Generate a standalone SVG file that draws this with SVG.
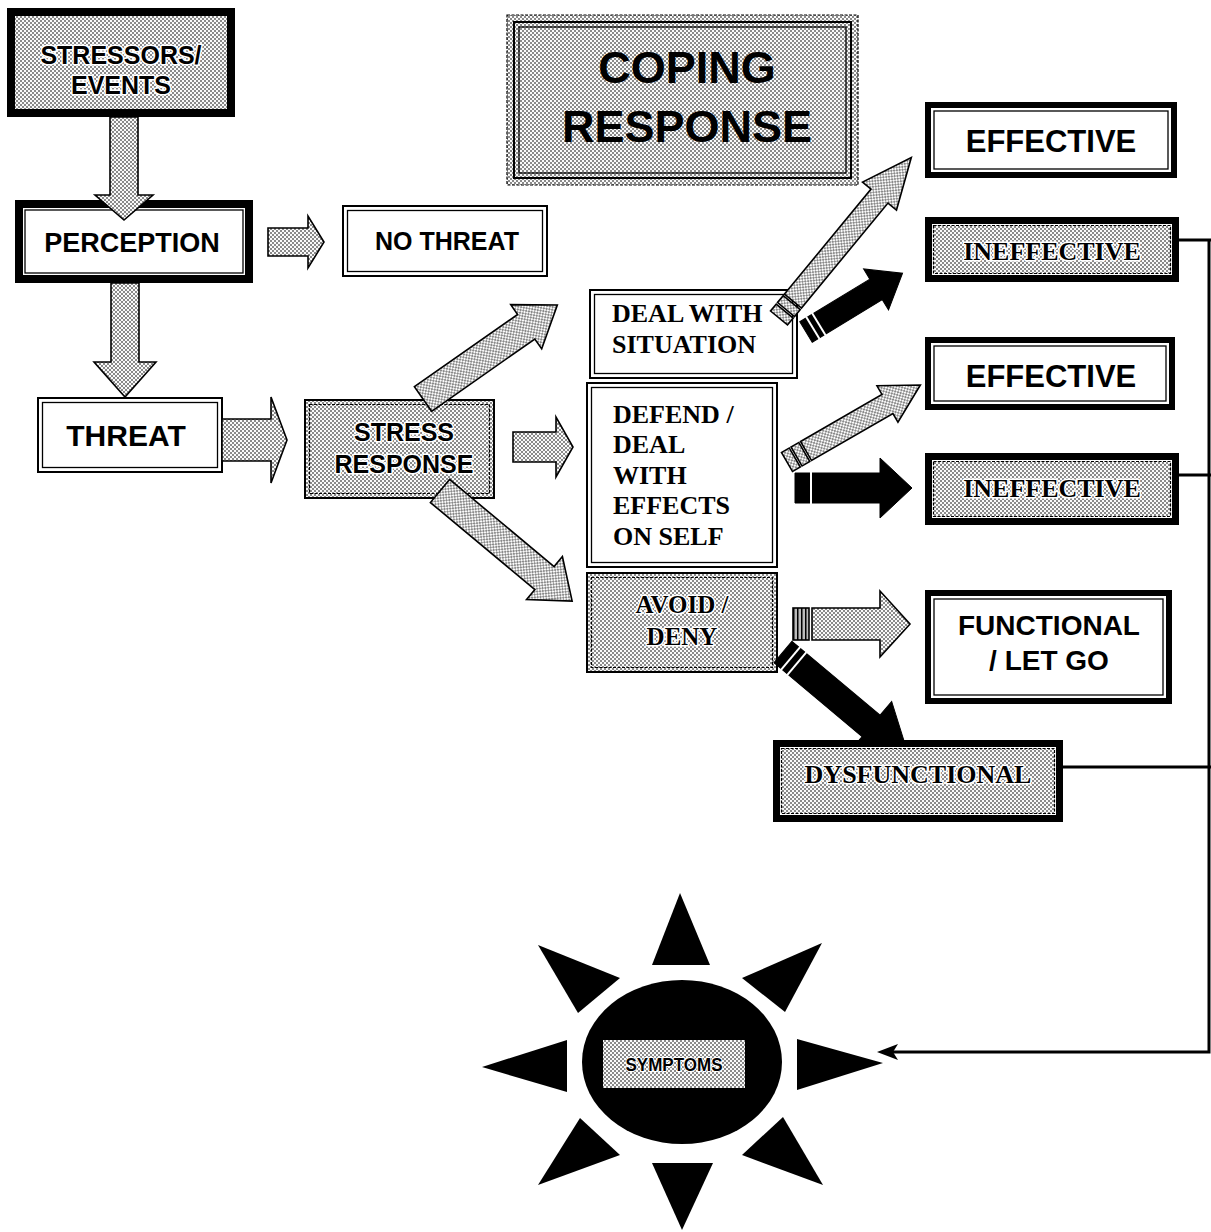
<svg xmlns="http://www.w3.org/2000/svg" width="1211" height="1232" viewBox="0 0 1211 1232">
<defs>
<pattern id="dots" width="4" height="4" patternUnits="userSpaceOnUse">
<rect width="4" height="4" fill="#fafafa"/>
<rect width="2" height="2" fill="#8a8a8a"/>
<rect x="2" y="2" width="2" height="2" fill="#8a8a8a"/>
</pattern>
<pattern id="stripes" width="4" height="4" patternUnits="userSpaceOnUse">
<rect width="4" height="4" fill="#bbb"/>
<rect width="1.5" height="4" fill="#000"/>
</pattern>
</defs>
<style>
.sans{font-family:"Liberation Sans",Arial,sans-serif;font-weight:bold;fill:#000}
.serif{font-family:"Liberation Serif","Times New Roman",serif;font-weight:bold;fill:#000}
.halo{stroke:#fff;stroke-width:3;paint-order:stroke;stroke-linejoin:round}
.white{fill:#fff;stroke:#000}
.gray{fill:url(#dots);stroke:#000}
.thin{fill:none;stroke:#000;stroke-width:1.3}
.dash{fill:none;stroke:#000;stroke-width:1.2;stroke-dasharray:3 1.5}
.ga{fill:url(#dots);stroke:#000;stroke-width:1.6;stroke-linejoin:miter}
.ba{fill:#000;stroke:#000;stroke-width:1}
.band{stroke:#fff;stroke-width:2}
.conn{fill:none;stroke:#000;stroke-width:3}
</style>

<!-- Nodes -->
<g id="stressors">
<rect x="7" y="8" width="228" height="109" fill="#000"/>
<rect x="15" y="16" width="212" height="93" fill="url(#dots)"/>
<text class="sans halo" x="121" y="64" font-size="25" text-anchor="middle">STRESSORS/</text>
<text class="sans halo" x="121" y="94" font-size="25" text-anchor="middle">EVENTS</text>
</g>

<g id="perception">
<rect x="19" y="204" width="230" height="75" class="white" stroke-width="8"/>
<rect x="25" y="210" width="218" height="63" class="thin"/>
<text class="sans" x="132" y="252" font-size="27" text-anchor="middle">PERCEPTION</text>
</g>

<g id="no-threat">
<rect x="343" y="206" width="204" height="70" class="white" stroke-width="2"/>
<rect x="347.5" y="210.5" width="195" height="61" class="thin"/>
<text class="sans" x="447" y="250" font-size="25" text-anchor="middle">NO THREAT</text>
</g>

<g id="threat">
<rect x="38" y="398" width="184" height="74" class="white" stroke-width="2"/>
<rect x="42.5" y="402.5" width="175" height="65" class="thin"/>
<text class="sans" x="126" y="446" font-size="30" text-anchor="middle">THREAT</text>
</g>

<g id="stress-response">
<rect x="305" y="400" width="189" height="98" class="gray" stroke-width="2"/>
<rect x="309.5" y="404.5" width="180" height="89" class="dash"/>
<text class="sans halo" x="404" y="441" font-size="25" text-anchor="middle">STRESS</text>
<text class="sans halo" x="404" y="473" font-size="25" text-anchor="middle">RESPONSE</text>
</g>

<g id="coping-response">
<rect x="507" y="15" width="351" height="170" class="gray" stroke-width="1.2" stroke-dasharray="3 1.5"/>
<rect x="514" y="22" width="337" height="156" fill="none" stroke="#000" stroke-width="2"/>
<rect x="519" y="27" width="327" height="146" class="thin"/>
<text class="sans" x="687" y="83" font-size="45" text-anchor="middle">COPING</text>
<text class="sans" x="687" y="142" font-size="45" text-anchor="middle">RESPONSE</text>
</g>

<g id="deal-with-situation">
<rect x="590" y="290" width="207" height="88" class="white" stroke-width="2"/>
<rect x="594.5" y="294.5" width="198" height="79" class="thin"/>
<text class="serif" x="612" y="322" font-size="26">DEAL WITH</text>
<text class="serif" x="612" y="353" font-size="26">SITUATION</text>
</g>

<g id="defend">
<rect x="587" y="383" width="190" height="184" class="white" stroke-width="2"/>
<rect x="591.5" y="387.5" width="181" height="175" class="thin"/>
<text class="serif" x="613" y="423" font-size="26">DEFEND /</text>
<text class="serif" x="613" y="453" font-size="26">DEAL</text>
<text class="serif" x="613" y="484" font-size="26">WITH</text>
<text class="serif" x="613" y="514" font-size="26">EFFECTS</text>
<text class="serif" x="613" y="545" font-size="26">ON SELF</text>
</g>

<g id="avoid-deny">
<rect x="587" y="573" width="190" height="99" class="gray" stroke-width="2"/>
<rect x="591.5" y="577.5" width="181" height="90" class="dash"/>
<text class="serif halo" x="682" y="613" font-size="25" text-anchor="middle">AVOID /</text>
<text class="serif halo" x="682" y="645" font-size="25" text-anchor="middle">DENY</text>
</g>

<g id="effective-1">
<rect x="928" y="105" width="246" height="70" class="white" stroke-width="6"/>
<rect x="934" y="111" width="234" height="58" class="thin"/>
<text class="sans" x="1051" y="152" font-size="31" text-anchor="middle">EFFECTIVE</text>
</g>

<g id="ineffective-1">
<rect x="925" y="217" width="254" height="65" fill="#000"/>
<rect x="932" y="224" width="240" height="51" fill="#fff"/>
<rect x="933.5" y="225.5" width="237" height="48" class="gray" stroke-width="1.2" stroke-dasharray="3 1.5"/>
<text class="serif halo" x="1052" y="260" font-size="26" text-anchor="middle">INEFFECTIVE</text>
</g>

<g id="effective-2">
<rect x="928" y="340" width="244" height="67" class="white" stroke-width="6"/>
<rect x="934" y="346" width="232" height="55" class="thin"/>
<text class="sans" x="1051" y="387" font-size="31" text-anchor="middle">EFFECTIVE</text>
</g>

<g id="ineffective-2">
<rect x="925" y="453" width="254" height="72" fill="#000"/>
<rect x="932" y="460" width="240" height="58" fill="#fff"/>
<rect x="933.5" y="461.5" width="237" height="55" class="gray" stroke-width="1.2" stroke-dasharray="3 1.5"/>
<text class="serif halo" x="1052" y="497" font-size="26" text-anchor="middle">INEFFECTIVE</text>
</g>

<g id="functional">
<rect x="928" y="593" width="241" height="108" class="white" stroke-width="6"/>
<rect x="934" y="599" width="229" height="96" class="thin"/>
<text class="sans" x="1049" y="635" font-size="28" text-anchor="middle">FUNCTIONAL</text>
<text class="sans" x="1049" y="670" font-size="28" text-anchor="middle">/ LET GO</text>
</g>

<g id="symptoms">
<ellipse cx="682" cy="1062" rx="100" ry="82" fill="#000"/>
<polygon points="680,893 652,965 710,965" fill="#000"/>
<polygon points="682,1230 652,1163 713,1163" fill="#000"/>
<polygon points="482,1067 567,1040 567,1092" fill="#000"/>
<polygon points="883,1063 797,1039 797,1090" fill="#000"/>
<polygon points="538,945 620,978 578,1013" fill="#000"/>
<polygon points="822,943 742,978 785,1012" fill="#000"/>
<polygon points="538,1185 580,1118 620,1155" fill="#000"/>
<polygon points="823,1185 742,1155 783,1117" fill="#000"/>
<rect x="603" y="1040" width="142" height="48" fill="url(#dots)"/>
<text class="sans halo" x="674" y="1071" font-size="19" text-anchor="middle" textLength="97" lengthAdjust="spacingAndGlyphs" style="stroke-width:2">SYMPTOMS</text>
</g>

<!-- Connectors -->
<g id="connectors">
<path class="ga" transform="translate(124,117) rotate(90)" d="M0,-14H78V-29L103,0L78,29V14H0Z"/>
<path class="ga" transform="translate(268,242)" d="M0,-14H40V-26L56,0L40,26V14H0Z"/>
<path class="ga" transform="translate(125,283) rotate(90)" d="M0,-14H79V-31L114,0L79,31V14H0Z"/>
<path class="ga" transform="translate(222,440)" d="M0,-21H49V-43L65,0L49,43V21H0Z"/>
<path class="ga" transform="translate(423,399) rotate(-35)" d="M0,-15H126V-27L164,0L126,27V15H0Z"/>
<path class="ga" transform="translate(513,447)" d="M0,-15H43V-30L60,0L43,30V15H0Z"/>
<path class="ga" transform="translate(440,491) rotate(39.8)" d="M0,-15H136V-28L172,0L136,28V15H0Z"/>

<g transform="translate(779,318) rotate(-50.5)">
<path class="ga" d="M22,-11H158V-22L208,0L158,22V11H22Z"/>
<rect class="ga" x="0" y="-11" width="9" height="22"/>
<rect class="ga" x="11" y="-11" width="9" height="22"/>
</g>
<g transform="translate(806,332) rotate(-31.3)">
<path class="ba" d="M0,-12H82V-24L113,0L82,24V12H0Z"/>
<line class="band" x1="8" y1="-13" x2="8" y2="13"/>
<line class="band" x1="15" y1="-13" x2="15" y2="13"/>
</g>

<g transform="translate(787,462) rotate(-30)">
<path class="ga" d="M22,-11H116V-21L154,0L116,21V11H22Z"/>
<rect class="ga" x="0" y="-11" width="9" height="22"/>
<rect class="ga" x="11" y="-11" width="9" height="22"/>
</g>
<g transform="translate(795,488)">
<path class="ba" d="M0,-15H85V-30L117,0L85,30V15H0Z"/>
<line class="band" x1="16" y1="-16" x2="16" y2="16"/>
</g>

<g transform="translate(793,624)">
<path class="ga" d="M19,-16H87V-33L117,0L87,33V16H19Z"/>
<rect x="0" y="-16" width="16" height="32" fill="url(#stripes)" stroke="#000" stroke-width="1.6"/>
</g>
<g transform="translate(783,652) rotate(40)">
<path class="ba" d="M0,-14H115V-32L165,0L115,32V14H0Z"/>
<line class="band" x1="10" y1="-15" x2="10" y2="15"/>
<line class="band" x1="18" y1="-15" x2="18" y2="15"/>
</g>

<path class="conn" d="M1179,240H1211M1179,475H1211M1063,767H1211"/>
<path class="conn" d="M1209,240V1052H890" stroke-width="2.5"/>
<polygon points="877,1052 898,1044 893,1052 898,1060" fill="#000"/>
</g>

<g id="dysfunctional">
<rect x="773" y="740" width="290" height="82" fill="#000"/>
<rect x="780" y="747" width="276" height="68" fill="#fff"/>
<rect x="781.5" y="748.5" width="273" height="65" class="gray" stroke-width="1.2" stroke-dasharray="3 1.5"/>
<text class="serif halo" x="918" y="783" font-size="26" text-anchor="middle">DYSFUNCTIONAL</text>
</g>
</svg>
